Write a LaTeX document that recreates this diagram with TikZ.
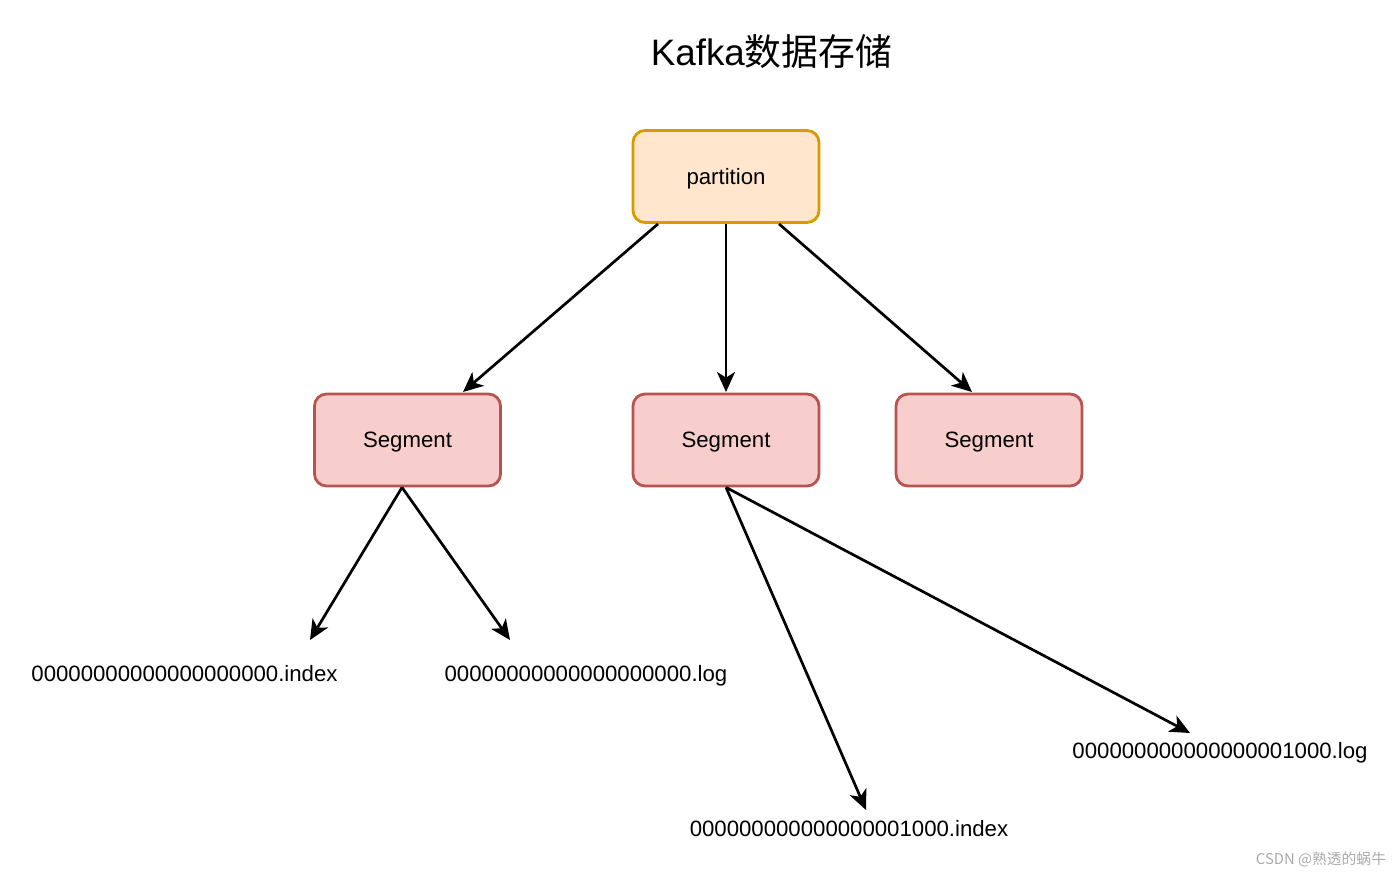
\documentclass[tikz,border=0pt]{standalone}
\usepackage{fontspec}
\setmainfont{Liberation Sans}
\newfontfamily\cjk{Noto Sans CJK SC}
\usetikzlibrary{arrows.meta}
\definecolor{partfill}{HTML}{FFE6CC}
\definecolor{partline}{HTML}{D79B00}
\definecolor{segfill}{HTML}{F8CECC}
\definecolor{segline}{HTML}{B85450}
\definecolor{markgray}{HTML}{AAAAAA}
\begin{document}
\begin{tikzpicture}[
    x=0.5pt, y=-0.5pt,
    box/.style={draw, rectangle, rounded corners=6pt, line width=1.4pt, minimum width=93pt, minimum height=46pt, text depth=0pt, align=center, font=\fontsize{11.1}{13}\selectfont},
    partbox/.style={box, fill=partfill, draw=partline},
    segbox/.style={box, fill=segfill, draw=segline},
    file/.style={font=\fontsize{11.1}{13}\selectfont, inner sep=0pt, text depth=0pt},
    link/.style={-{Stealth[length=10pt, width=9pt, inset=2.8pt]}, line width=1.35pt}
]
    \useasboundingbox (0,0) rectangle (1400,874);

    % Title
    \node (title) at (771.5,52) {\fontsize{18.4}{22}\selectfont Kafka\cjk 数据存储};

    % Partition
    \node[partbox] (partition) at (726,176.5) {partition};

    % Segments
    \node[segbox] (seg1) at (407.5,440) {Segment};
    \node[segbox] (seg2) at (726,440) {Segment};
    \node[segbox] (seg3) at (989,440) {Segment};

    % Files
    \node[file] (idx0) at (184.5,673) {00000000000000000000.index};
    \node[file] (log0) at (586,673) {00000000000000000000.log};
    \node[file] (log1) at (1220,750) {000000000000000001000.log};
    \node[file] (idx1) at (849,828) {000000000000000001000.index};

    % Arrow tips
    \coordinate (tipa) at (463,392);
    \coordinate (tipb) at (726,392);
    \coordinate (tipc) at (972,392);
    \coordinate (tipd) at (310,640);
    \coordinate (tipe) at (510,640);
    \coordinate (tipf) at (866,810);
    \coordinate (tipg) at (1190,733);

    % Connections
    \draw[link] ([xshift=-34pt]partition.south) -- (tipa);
    \draw[link] (partition.south) -- (tipb);
    \draw[link] ([xshift=26.5pt]partition.south) -- (tipc);
    \draw[link] ([xshift=-2.75pt]seg1.south) -- (tipd);
    \draw[link] ([xshift=-2.75pt]seg1.south) -- (tipe);
    \draw[link] (seg2.south) -- (tipf);
    \draw[link] (seg2.south) -- (tipg);

    % Watermark
    \node[text=markgray, font=\cjk\fontsize{7.4}{8}\selectfont] (mark) at (1321,860) {CSDN @熟透的蜗牛};

\end{tikzpicture}
\end{document}
